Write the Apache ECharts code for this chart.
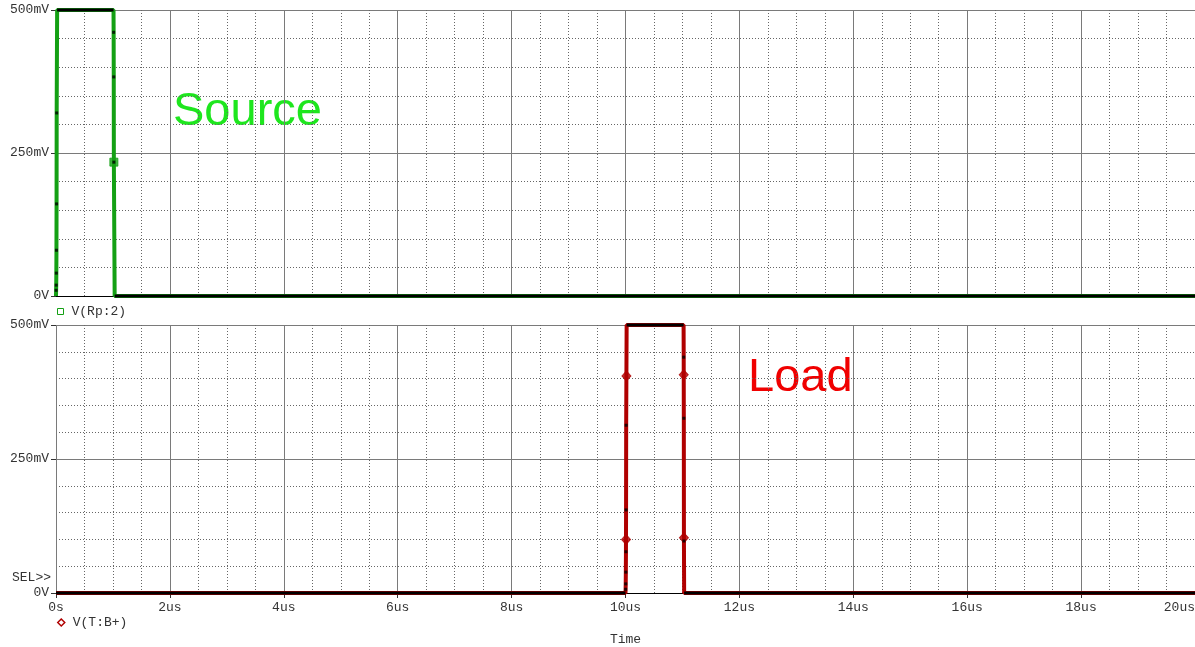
<!DOCTYPE html>
<html>
<head>
<meta charset="utf-8">
<script src="https://cdn.jsdelivr.net/npm/echarts@6/dist/echarts.min.js"></script>
<style>
  html, body { margin: 0; padding: 0; background: #fff; }
  #chart { width: 1195px; height: 647px; }
</style>
</head>
<body>
<div id="chart"></div>
<script>
// time in us, voltage in mV
const sourceTime = [0, 0.002, 0.004, 0.006, 0.008, 0.010, 0.012, 0.02, 1.01, 1.012, 1.014, 1.016, 1.03, 20]
const sourceVolt = [0, 10, 19, 40, 80, 161, 320, 500, 500, 461, 383, 234, 0, 0]
const sourceMarkTime = [1.016]
const sourceMarkVolt = [234]

const loadTime = [0, 10.0, 10.002, 10.004, 10.006, 10.008, 10.010, 10.012, 10.02, 11.02, 11.022, 11.024, 11.026, 11.03, 20]
const loadVolt = [0, 0, 7, 17, 39, 77, 155, 313, 500, 500, 440, 326, 97, 0, 0]
const loadMarkTime = [10.009, 10.016, 11.0226, 11.026]
const loadMarkVolt = [100, 405, 407, 103]

const yTicks = [0, 250, 500]
const xTickStep = 2

const GREEN = '#14a014'
const RED = '#b00000'
const monoFont = 'Liberation Mono, DejaVu Sans Mono, monospace'

const zip = (ts, vs) => ts.map((t, i) => [t, vs[i]])

// flat stretches sitting on the plot border get the black edge
function borderRuns(ts, vs) {
  const out = []
  for (let i = 0; i < ts.length - 1; i++) {
    const v = vs[i]
    if (v === vs[i + 1] && (v === yTicks[0] || v === yTicks[yTicks.length - 1])) {
      out.push([ts[i], v], [ts[i + 1], v], [ts[i + 1], '-'])
    }
  }
  return out
}

const innerPoints = (ts, vs) => zip(ts, vs).filter((p) => p[1] > yTicks[0] && p[1] < yTicks[yTicks.length - 1])

const chart = echarts.init(document.getElementById('chart'))

const xBase = (gridIndex) => ({
  type: 'value',
  gridIndex,
  min: 0,
  max: 20,
  interval: xTickStep,
  axisLine: { show: true, onZero: false, lineStyle: { color: '#000', width: 1 } },
  axisTick: { show: false },
  axisLabel: { show: false },
  splitLine: { show: true, lineStyle: { color: '#7a7a7a', width: 1 } },
  minorTick: { show: false, splitNumber: 4 },
  minorSplitLine: { show: true, lineStyle: { color: '#666', width: 1, type: [1, 2] } }
})

const yBase = (gridIndex) => ({
  type: 'value',
  gridIndex,
  min: yTicks[0],
  max: yTicks[yTicks.length - 1],
  interval: yTicks[1] - yTicks[0],
  axisLine: { show: false },
  axisTick: { show: true, length: 5, lineStyle: { color: '#333' } },
  axisLabel: {
    margin: 7,
    fontFamily: monoFont,
    fontSize: 13,
    color: '#333',
    formatter: (v) => (v === 0 ? '0V' : v + 'mV')
  },
  splitLine: { show: true, lineStyle: { color: '#7a7a7a', width: 1 } },
  minorTick: { show: false, splitNumber: 5 },
  minorSplitLine: { show: true, lineStyle: { color: '#666', width: 1, type: [1, 2] } }
})

const bottomX = xBase(1)
bottomX.axisTick = { show: true, length: 5, lineStyle: { color: '#333' } }
bottomX.axisLabel = {
  show: true,
  margin: 8,
  fontFamily: monoFont,
  fontSize: 13,
  color: '#333',
  alignMaxLabel: 'right',
  formatter: (v) => (v === 0 ? '0s' : v + 'us')
}
bottomX.name = 'Time'
bottomX.nameLocation = 'middle'
bottomX.nameGap = 40
bottomX.nameTextStyle = { fontFamily: monoFont, fontSize: 13, color: '#333' }

const bottomTopBorder = {
  type: 'value',
  gridIndex: 1,
  position: 'top',
  min: 0,
  max: 20,
  interval: xTickStep,
  axisLine: { show: true, lineStyle: { color: '#000', width: 1 } },
  axisTick: { show: false },
  axisLabel: { show: false },
  splitLine: { show: false }
}

function traceSeries(name, color, ts, vs, mts, mvs, symbol, axis) {
  return [
    {
      name,
      type: 'line',
      xAxisIndex: axis,
      yAxisIndex: axis,
      data: zip(ts, vs),
      showSymbol: false,
      symbol: 'none',
      clip: false,
      lineStyle: { color, width: 4 },
      itemStyle: { color },
      z: 2
    },
    {
      name: name + ' edge',
      type: 'line',
      xAxisIndex: axis,
      yAxisIndex: axis,
      data: borderRuns(ts, vs),
      showSymbol: false,
      symbol: 'none',
      clip: false,
      connectNulls: false,
      silent: true,
      lineStyle: { color: '#000', width: 3 },
      z: 3
    },
    {
      name,
      type: 'scatter',
      xAxisIndex: axis,
      yAxisIndex: axis,
      data: zip(mts, mvs),
      symbol,
      symbolSize: symbol === 'diamond' ? [9, 10] : 8,
      itemStyle: { color, borderColor: color, borderWidth: 1 },
      silent: true,
      z: 4
    },
    {
      name: name + ' points',
      type: 'scatter',
      xAxisIndex: axis,
      yAxisIndex: axis,
      data: innerPoints(ts, vs),
      symbol: 'rect',
      symbolSize: [3, 3],
      itemStyle: { color: '#000' },
      silent: true,
      z: 5
    }
  ]
}

const legendText = { fontFamily: monoFont, fontSize: 13, color: '#333', padding: [0, 0, 0, 3] }

const option = {
  backgroundColor: '#fff',
  animation: false,
  grid: [
    { left: 56, top: 10, right: 0, height: 286, outerBoundsMode: 'none' },
    { left: 56, top: 325, right: 0, height: 268, outerBoundsMode: 'none' }
  ],
  legend: [
    {
      left: 57,
      top: 305,
      padding: 0,
      itemWidth: 6,
      itemHeight: 6,
      selectedMode: false,
      textStyle: legendText,
      data: [{ name: 'V(Rp:2)', icon: 'rect', itemStyle: { color: '#fff', borderColor: GREEN, borderWidth: 1 } }]
    },
    {
      left: 57,
      top: 616,
      padding: 0,
      itemWidth: 7,
      itemHeight: 7,
      selectedMode: false,
      textStyle: legendText,
      data: [{ name: 'V(T:B+)', icon: 'diamond', itemStyle: { color: '#fff', borderColor: RED, borderWidth: 1.5 } }]
    }
  ],
  xAxis: [xBase(0), bottomX, bottomTopBorder],
  yAxis: [yBase(0), yBase(1)],
  graphic: [
    {
      type: 'text',
      left: 173,
      top: 89,
      style: { text: 'Source', font: '47px "Liberation Sans", Arial, sans-serif', fill: '#1ee61e' }
    },
    {
      type: 'text',
      left: 748,
      top: 355,
      style: { text: 'Load', font: '47px "Liberation Sans", Arial, sans-serif', fill: '#f00000' }
    },
    {
      type: 'text',
      left: 12,
      top: 571,
      style: { text: 'SEL>>', font: '13px ' + monoFont, fill: '#333' }
    }
  ],
  series: [
    ...traceSeries('V(Rp:2)', GREEN, sourceTime, sourceVolt, sourceMarkTime, sourceMarkVolt, 'rect', 0),
    ...traceSeries('V(T:B+)', RED, loadTime, loadVolt, loadMarkTime, loadMarkVolt, 'diamond', 1)
  ]
}

chart.setOption(option)
</script>
</body>
</html>
